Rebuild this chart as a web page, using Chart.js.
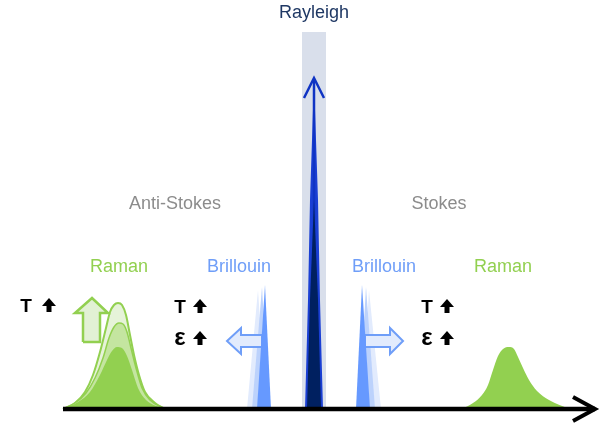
<!DOCTYPE html>
<html>
<head>
<meta charset="utf-8">
<script src="https://cdn.jsdelivr.net/npm/chart.js@4.4.0/dist/chart.umd.min.js"></script>
<style>
    html, body { margin: 0; padding: 0; background: #fff; }
    canvas { display: block; }
</style>
</head>
<body>
<canvas id="spectrum" width="604" height="423"></canvas>
<script>
// x = frequency shift (0 = laser line), y = intensity, both in arbitrary units
const rayleighBand = [[-12, 0], [-12, 377], [12, 377], [12, 0]];
const rayleighPeak = [[-9, 0], [-6, 109], [-4, 209], [0, 329], [4, 209], [6, 109], [9, 0]];
const rayleighCore = [[-7, 0], [-4, 109], [0, 209], [4, 109], [7, 0]];
const rayleighArrow = [[0, 0], [0, 329]];
const rayleighHead = [[-10, 311], [0, 331], [10, 311]];

// Brillouin lines: nominal line plus two shifted copies (T / strain up)
const brillouinAS0 = [[-57, 0], [-49, 124], [-43, 0]];
const brillouinAS1 = [[-62, 0], [-52, 122], [-45, 0]];
const brillouinAS2 = [[-67, 0], [-56, 119], [-48, 0]];
const brillouinS0 = [[42, 0], [48, 124], [56, 0]];
const brillouinS1 = [[45, 0], [52, 122], [61, 0]];
const brillouinS2 = [[48, 0], [55, 119], [67, 0]];
const brillouinShiftAS = [[-52, 74], [-73, 74], [-73, 81], [-87, 68], [-73, 55], [-73, 62], [-52, 62], [-52, 74]];
const brillouinShiftS = [[51, 74], [76, 74], [76, 81], [89, 68], [76, 55], [76, 62], [51, 62], [51, 74]];

// Raman bands: anti-Stokes grows with temperature, Stokes stays
const ramanAS2 = [[-251, 0], [-239, 6], [-229, 17], [-221, 34], [-214, 57], [-208, 81], [-204, 97], [-200, 104],
    [-196, 106], [-192, 104], [-188, 94], [-184, 74], [-180, 54], [-175, 34], [-169, 17], [-159, 6], [-149, 0]];
const ramanAS1 = [[-251, 0], [-239, 6], [-228, 16], [-219, 31], [-211, 51], [-205, 71], [-200, 82], [-195, 86],
    [-191, 85], [-187, 77], [-183, 61], [-178, 41], [-172, 21], [-164, 9], [-149, 0]];
const ramanAS0 = [[-251, 0], [-236, 7], [-224, 17], [-214, 34], [-207, 49], [-202, 58], [-197, 62], [-192, 61],
    [-187, 53], [-182, 39], [-176, 21], [-168, 9], [-149, 0]];
const ramanS = [[148, 0], [159, 6], [168, 14], [174, 24], [179, 39], [184, 53], [189, 60], [195, 62], [200, 60],
    [204, 52], [209, 41], [215, 29], [223, 18], [235, 9], [256, 0]];
const ramanGrow = [[-231, 67], [-231, 96], [-239, 96], [-222, 111], [-206, 96], [-214, 96], [-214, 67], [-231, 67]];

const axisLine = [[-251, 0], [281, 0]];
const axisHead = [[259, 12], [281, 0], [259, -12]];

const bandNames = ['Rayleigh', 'Anti-Stokes', 'Stokes', 'Raman', 'Brillouin', 'Brillouin', 'Raman'];
const sensitivity = ['T', 'T', 'ε', 'T', 'ε'];

function toPoints(list) {
    return list.map(([x, y]) => ({ x, y }));
}

function shape(list, fillColor, order, extra) {
    return Object.assign({
        data: toPoints(list),
        showLine: true,
        fill: 'origin',
        backgroundColor: fillColor,
        borderColor: fillColor,
        borderWidth: 0,
        pointRadius: 0,
        tension: 0,
        order: order
    }, extra || {});
}

function stroke(list, color, width, order) {
    return {
        data: toPoints(list),
        showLine: true,
        fill: false,
        borderColor: color,
        borderWidth: width,
        borderCapStyle: 'butt',
        borderJoinStyle: 'miter',
        pointRadius: 0,
        order: order
    };
}

const smooth = { cubicInterpolationMode: 'monotone' };

// text anchors in data units
const nameSpots = [
    { x: 0, y: 391, color: '#1f3864' },
    { x: -139, y: 200, color: '#8c8c8c' },
    { x: 125, y: 200, color: '#8c8c8c' },
    { x: -195, y: 137, color: '#92d050' },
    { x: -75, y: 137, color: '#6f9ef8' },
    { x: 70, y: 137, color: '#6f9ef8' },
    { x: 189, y: 137, color: '#92d050' }
];
const signSpots = [
    { x: -288, y: 97, arrow: -265 },
    { x: -134, y: 96, arrow: -114 },
    { x: -134, y: 64, arrow: -114 },
    { x: 113, y: 96, arrow: 133 },
    { x: 113, y: 64, arrow: 133 }
];

function upArrow(ctx, cx, base) {
    ctx.beginPath();
    ctx.moveTo(cx - 7, base - 6);
    ctx.lineTo(cx, base - 14);
    ctx.lineTo(cx + 7, base - 6);
    ctx.lineTo(cx + 2.5, base - 6);
    ctx.lineTo(cx + 2.5, base);
    ctx.lineTo(cx - 2.5, base);
    ctx.lineTo(cx - 2.5, base - 6);
    ctx.closePath();
    ctx.fill();
}

const annotate = {
    id: 'annotate',
    afterDatasetsDraw(chart) {
        const { ctx, scales: { x, y } } = chart;
        ctx.save();
        ctx.textAlign = 'center';
        ctx.textBaseline = 'alphabetic';
        ctx.font = '18px "Liberation Sans", Arial, sans-serif';
        bandNames.forEach((name, i) => {
            const spot = nameSpots[i];
            ctx.fillStyle = spot.color;
            ctx.fillText(name, x.getPixelForValue(spot.x), y.getPixelForValue(spot.y));
        });
        ctx.fillStyle = '#000';
        sensitivity.forEach((sym, i) => {
            const spot = signSpots[i];
            const base = y.getPixelForValue(spot.y);
            ctx.font = (sym === 'ε' ? 'bold 24px' : 'bold 19px') + ' "Liberation Sans", Arial, sans-serif';
            ctx.fillText(sym, x.getPixelForValue(spot.x), base);
            upArrow(ctx, x.getPixelForValue(spot.arrow), base);
        });
        ctx.restore();
    }
};

new Chart(document.getElementById('spectrum'), {
    type: 'scatter',
    data: {
        datasets: [
            shape(rayleighBand, '#d9dfeb', 30),
            shape(brillouinAS2, '#e2ebfd', 29),
            shape(brillouinS2, '#e2ebfd', 29),
            shape(brillouinAS1, '#bcd2fc', 28),
            shape(brillouinS1, '#bcd2fc', 28),
            shape(brillouinShiftAS, '#e2ebfd', 27, { fill: 'shape', borderColor: '#6f9ef8', borderWidth: 2 }),
            shape(brillouinShiftS, '#e2ebfd', 27, { fill: 'shape', borderColor: '#6f9ef8', borderWidth: 2 }),
            shape(brillouinAS0, '#6699ff', 26),
            shape(brillouinS0, '#6699ff', 26),
            shape(rayleighPeak, '#1a3fd4', 25),
            stroke(rayleighArrow, '#1034c4', 2.5, 24),
            shape(rayleighCore, '#002060', 23),
            stroke(rayleighHead, '#1034c4', 2.5, 22),
            shape(ramanAS2, '#e6f3d9', 21, Object.assign({ borderColor: '#92d050', borderWidth: 2 }, smooth)),
            shape(ramanAS1, '#c4e5a0', 20, Object.assign({ borderColor: '#92d050', borderWidth: 1.5 }, smooth)),
            shape(ramanAS0, '#92d050', 19, smooth),
            shape(ramanS, '#92d050', 19, smooth),
            shape(ramanGrow, '#e2f1d4', 19, { fill: 'shape', borderColor: '#92d050', borderWidth: 2.5 }),
            stroke(axisLine, '#000', 4.5, 2),
            stroke(axisHead, '#000', 4, 1)
        ]
    },
    options: {
        responsive: false,
        animation: false,
        events: [],
        layout: { padding: 0 },
        plugins: {
            legend: { display: false },
            tooltip: { enabled: false }
        },
        scales: {
            x: { type: 'linear', min: -314, max: 290, display: false },
            y: { type: 'linear', min: -14, max: 409, display: false }
        }
    },
    plugins: [annotate]
});
</script>
</body>
</html>
